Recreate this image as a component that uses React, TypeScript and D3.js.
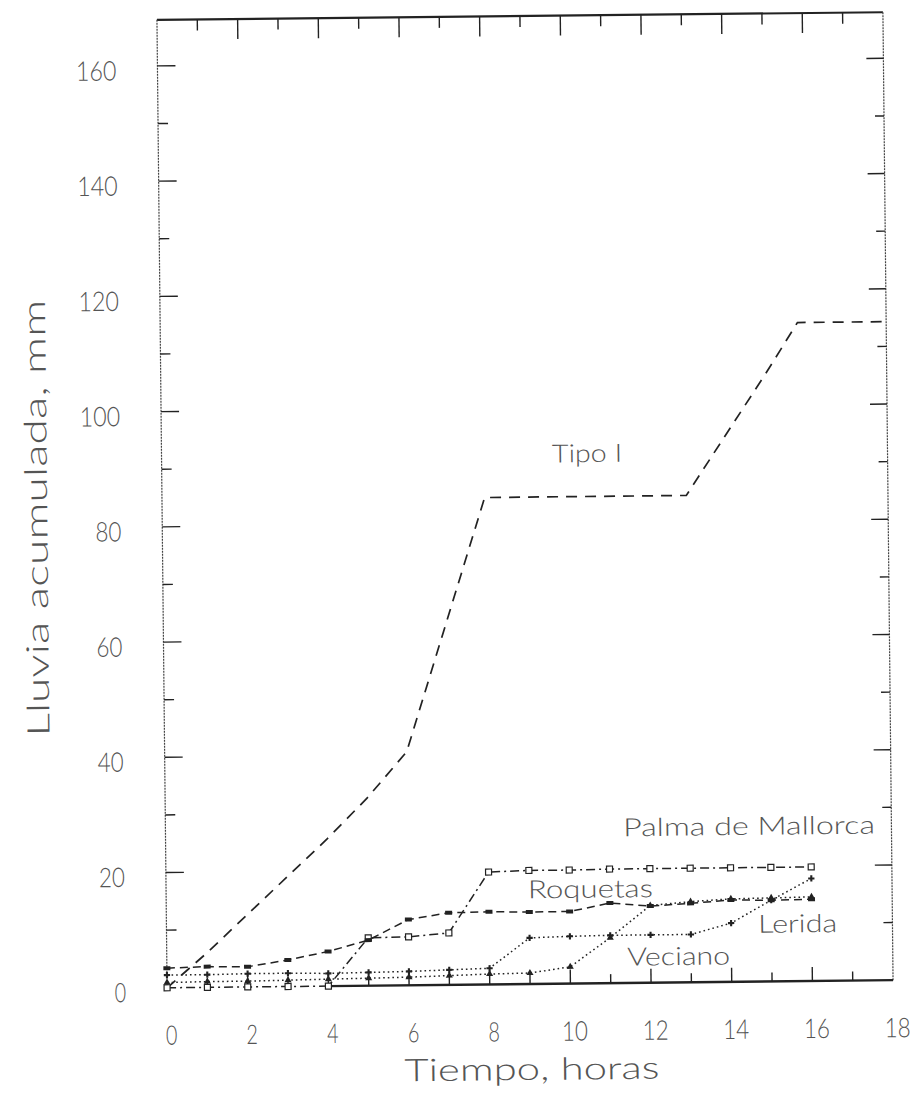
import * as d3 from "d3";

// hourly readings (h) and accumulated rain (mm)
const hours = [0, 1, 2, 3, 4, 5, 6, 7, 8, 9, 10, 11, 12, 13, 14, 15, 16];
const palmaValues = [0, 0, 0, 0, 0, 8.3, 8.4, 9.0, 19.5, 19.7, 19.7, 19.8, 19.8, 19.8, 19.8, 19.8, 19.8];
const roquetasValues = [3.4, 3.6, 3.5, 4.6, 6.0, 7.9, 11.4, 12.5, 12.6, 12.5, 12.5, 13.9, 13.3, 13.7, 14.2, 14.1, 14.2];
const leridaValues = [2.2, 2.2, 2.3, 2.3, 2.2, 2.3, 2.4, 2.6, 2.8, 8.0, 8.2, 8.3, 8.3, 8.3, 10.2, 14.1, 17.8];
const vecianoValues = [0.9, 1.0, 1.0, 1.1, 1.2, 1.3, 1.4, 1.6, 1.8, 1.9, 2.9, 7.9, 13.4, 14.0, 14.4, 14.5, 14.6];

// design storm "Tipo I" (break points)
const tipoHours = [0, 1, 2, 3, 4, 5, 6, 7, 8, 13, 14, 15, 15.8, 18];
const tipoValues = [0, 6, 12.5, 19, 25.5, 32.5, 40.5, 62.5, 84.5, 84.5, 95, 105.5, 114.3, 114.3];

const xTickLabels = [0, 2, 4, 6, 8, 10, 12, 14, 16, 18];
const yTickLabels = [0, 20, 40, 60, 80, 100, 120, 140, 160];
const hourTicks = [1, 2, 3, 4, 5, 6, 7, 8, 9, 10, 11, 12, 13, 14, 15, 16, 17];
const mmTicks = [10, 20, 30, 40, 50, 60, 70, 80, 90, 100, 110, 120, 130, 140, 150, 160];

const W = 919;
const H = 1103;
const m = { left: 162, right: 888, top: 16, bottom: 984 };

const FONT = "Lato, 'DejaVu Sans', sans-serif";
const INK = "#222";
const TXT = "#555";

// where the curve names sit (hours, mm) and how wide they are printed
const annotations = [
  { text: "Tipo I", h: 10.55, v: 92.2, w: 70 },
  { text: "Palma de Mallorca", h: 14.47, v: 27.2, w: 252 },
  { text: "Roquetas", h: 10.52, v: 16.6, w: 125 },
  { text: "Lerida", h: 15.65, v: 10.2, w: 79 },
  { text: "Veciano", h: 12.69, v: 4.75, w: 103 },
];

export default function App() {
  const x = d3.scaleLinear().domain([0, 18]).range([m.left, m.right]);
  const y = d3.scaleLinear().domain([0, 168]).range([m.bottom, m.top]);

  const line = d3
    .line<[number, number]>()
    .x((d) => x(d[0]))
    .y((d) => y(d[1]));

  const pairs = (vals: number[], hs: number[] = hours) =>
    vals.map((v, i) => [hs[i], v] as [number, number]);

  const series = [
    { key: "palma", vals: palmaValues, dash: "9 4 2 4", width: 1.5, marker: "square" },
    { key: "roquetas", vals: roquetasValues, dash: "8 5", width: 1.5, marker: "bar" },
    { key: "lerida", vals: leridaValues, dash: "1.6 3", width: 1.5, marker: "cross" },
    { key: "veciano", vals: vecianoValues, dash: "1.6 3", width: 1.5, marker: "triangle" },
  ];

  const tri = d3.symbol(d3.symbolTriangle, 22)();
  const cross = d3.symbol(d3.symbolCross, 22)();

  const drawMarker = (kind: string, px: number, py: number, k: string) => {
    if (kind === "square")
      return <rect key={k} x={px - 3} y={py - 3} width={6} height={6} fill="#fff" stroke={INK} strokeWidth={1.2} />;
    if (kind === "bar")
      return <rect key={k} x={px - 3.5} y={py - 2} width={7} height={4} fill={INK} />;
    if (kind === "cross") return <path key={k} d={cross || ""} transform={`translate(${px},${py})`} fill={INK} />;
    return <path key={k} d={tri || ""} transform={`translate(${px},${py})`} fill={INK} />;
  };

  const numLen = (s: string) => 14.5 * s.length - 3;

  return (
    <svg
      width={W}
      height={H}
      viewBox={`0 0 ${W} ${H}`}
      style={{ position: "absolute", left: 0, top: 0, background: "#fff" }}
    >
      <g transform="rotate(-0.6, 525, 500)">
        {/* frame */}
        <line x1={m.left} x2={m.right} y1={m.top} y2={m.top} stroke={INK} strokeWidth={2.2} />
        <line x1={m.left} x2={m.left} y1={m.top} y2={m.bottom} stroke="#444" strokeWidth={1.2} strokeDasharray="2 1" />
        <line x1={m.right} x2={m.right} y1={m.top} y2={m.bottom} stroke="#444" strokeWidth={1.2} strokeDasharray="2 1" />
        <line x1={x(4)} x2={m.right} y1={m.bottom} y2={m.bottom} stroke={INK} strokeWidth={2.4} />

        {/* ticks */}
        {hourTicks.map((h) => (
          <g key={"h" + h}>
            <line x1={x(h)} x2={x(h)} y1={m.top} y2={m.top + (h % 2 === 0 ? 20 : 11)} stroke={INK} strokeWidth={1.4} />
            <line x1={x(h)} x2={x(h)} y1={m.bottom} y2={m.bottom - (h % 2 === 0 ? 14 : 9)} stroke={INK} strokeWidth={1.4} />
          </g>
        ))}
        {mmTicks.map((v) => (
          <g key={"v" + v}>
            <line x1={m.left} x2={m.left + (v % 20 === 0 ? 18 : 10)} y1={y(v)} y2={y(v)} stroke={INK} strokeWidth={1.4} />
            <line x1={m.right} x2={m.right - (v % 20 === 0 ? 17 : 9)} y1={y(v)} y2={y(v)} stroke={INK} strokeWidth={1.4} />
          </g>
        ))}

        {/* tick labels */}
        {xTickLabels.map((h) => (
          <text
            key={"xl" + h}
            x={x(h) + 4}
            y={1041}
            textAnchor="middle"
            fontFamily={FONT}
            fontWeight={300}
            fontSize={27}
            fill={TXT}
            textLength={numLen(String(h))}
            lengthAdjust="spacingAndGlyphs"
          >
            {h}
          </text>
        ))}
        {yTickLabels.map((v) => (
          <text
            key={"yl" + v}
            x={121}
            y={y(v) + 14}
            textAnchor="end"
            fontFamily={FONT}
            fontWeight={300}
            fontSize={27}
            fill={TXT}
            textLength={numLen(String(v))}
            lengthAdjust="spacingAndGlyphs"
          >
            {v}
          </text>
        ))}

        {/* axis titles */}
        <text
          x={526}
          y={1080}
          textAnchor="middle"
          fontFamily={FONT}
          fontWeight={300}
          fontSize={31}
          fill={TXT}
          textLength={255}
          lengthAdjust="spacingAndGlyphs"
        >
          Tiempo, horas
        </text>
        <text
          transform="translate(47,513) rotate(-90)"
          textAnchor="middle"
          fontFamily={FONT}
          fontWeight={300}
          fontSize={31}
          fill={TXT}
          textLength={437}
          lengthAdjust="spacingAndGlyphs"
        >
          Lluvia acumulada, mm
        </text>

        {/* design storm */}
        <path
          d={line(pairs(tipoValues, tipoHours)) || ""}
          fill="none"
          stroke={INK}
          strokeWidth={1.7}
          strokeDasharray="11 8"
        />

        {/* stations */}
        {series.map((s) => (
          <g key={s.key}>
            <path
              d={line(pairs(s.vals)) || ""}
              fill="none"
              stroke={INK}
              strokeWidth={s.width}
              strokeDasharray={s.dash}
            />
            {s.vals.map((v, i) => drawMarker(s.marker, x(hours[i]), y(v), s.key + i))}
          </g>
        ))}

        {/* curve names */}
        {annotations.map((a) => (
          <text
            key={a.text}
            x={x(a.h)}
            y={y(a.v)}
            textAnchor="middle"
            dominantBaseline="central"
            fontFamily={FONT}
            fontWeight={300}
            fontSize={25}
            fill={TXT}
            textLength={a.w}
            lengthAdjust="spacingAndGlyphs"
          >
            {a.text}
          </text>
        ))}
      </g>
    </svg>
  );
}
